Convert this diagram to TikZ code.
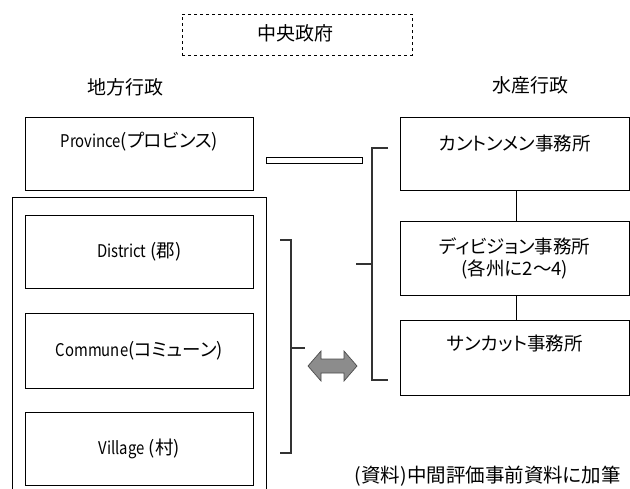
\documentclass[tikz,border=0pt]{standalone}
\usepackage{fontspec}
\setmainfont{Noto Sans CJK JP}[RawFeature=+palt]
\newfontfamily\latn{Noto Sans CJK JP}[FakeStretch=0.85]
\begin{document}
\begin{tikzpicture}[x=1pt,y=-1pt,
  box/.style={draw=black,line width=0.8pt,minimum width=228pt,minimum height=73pt,inner sep=0pt,anchor=north west},
  rbox/.style={draw=black,line width=0.8pt,minimum width=229pt,minimum height=73pt,inner sep=0pt,anchor=north west},
  head/.style={font=\fontsize{19}{21}\selectfont,inner sep=0pt},
  jtxt/.style={font=\fontsize{18.5}{22}\selectfont,inner sep=0pt,align=center},
  conn/.style={draw=black,line width=0.8pt},
  brk/.style={draw=black!80,line width=1.4pt},
  dblarrow/.style={fill=black!45,draw=black!70,line width=0.7pt}]
\useasboundingbox (0,0) rectangle (630,488);
\newcommand{\lt}[1]{{\latn\fontsize{17.5}{21}\selectfont #1}}
% central government
\node[draw=black,dashed,line width=0.7pt,minimum width=230pt,minimum height=41pt,inner sep=0pt] (gov) at (297,34.5) {};
\node[head] (govt) at (295,33) {中央政府};
\node[head] (local) at (125,87) {地方行政};
\node[head] (fish) at (530,85) {水産行政};
% left column
\node[box] (prov) at (25,117) {};
\node[jtxt,anchor=center] (provt) at ([yshift=-25pt]prov.north) {\lt{Province}(プロビンス)};
\draw[conn] (12,490) -- (12,197) coordinate (outl) -- (266,197) coordinate (outr) -- (266,490);
\node[box] (dist) at (25,215) {};
\node[jtxt] (distt) at (dist.center) {\lt{District} (郡)};
\node[box,minimum height=75pt] (comm) at (25,313) {};
\node[jtxt] (commt) at (comm.center) {\lt{Commune}(コミューン)};
\node[box] (vill) at (25,412) {};
\node[jtxt] (villt) at (vill.center) {\lt{Village} (村)};
% right column
\node[rbox] (cant) at (400,117) {};
\node[jtxt,anchor=center] (cantt) at ([yshift=-26pt]cant.north) {カントンメン事務所};
\node[rbox,minimum height=74pt] (divi) at (400,221) {};
\node[jtxt] (divit) at (divi.center) {ディビジョン事務所\\(各州に2～4)};
\node[rbox,minimum height=75pt] (sank) at (400,320) {};
\node[jtxt,anchor=center] (sankt) at ([yshift=-23pt]sank.north) {サンカット事務所};
\draw[conn] (cant.south -| 516,0) -- (divi.north -| 516,0);
\draw[conn] (divi.south -| 516,0) -- (sank.north -| 516,0);
% double line connector
\draw[conn,line width=0.7pt] (266,157) rectangle (362,163);
% right bracket
\coordinate (rb1) at (388,148);
\coordinate (rb2) at (388,380);
\draw[brk] (rb1) -- (372,148) -- (372,380) -- (rb2);
\draw[brk] (372,264) -- (356,264);
% inner bracket
\coordinate (ib1) at (280,240);
\coordinate (ib2) at (280,453);
\draw[brk,line width=1.8pt] (ib1) -- (291,240) -- (291,453) -- (ib2);
\draw[brk] (291,348) -- (305,348);
% double arrow
\draw[dblarrow] (308,366) -- (321,351) -- (321,359) -- (344,359) -- (344,351) -- (357,366) -- (344,381) -- (344,373) -- (321,373) -- (321,381) -- cycle;
% footer
\node[jtxt,font=\fontsize{19.5}{21}\selectfont,anchor=east] (src) at (621,476) {(資料)中間評価事前資料に加筆};
\end{tikzpicture}
\end{document}
